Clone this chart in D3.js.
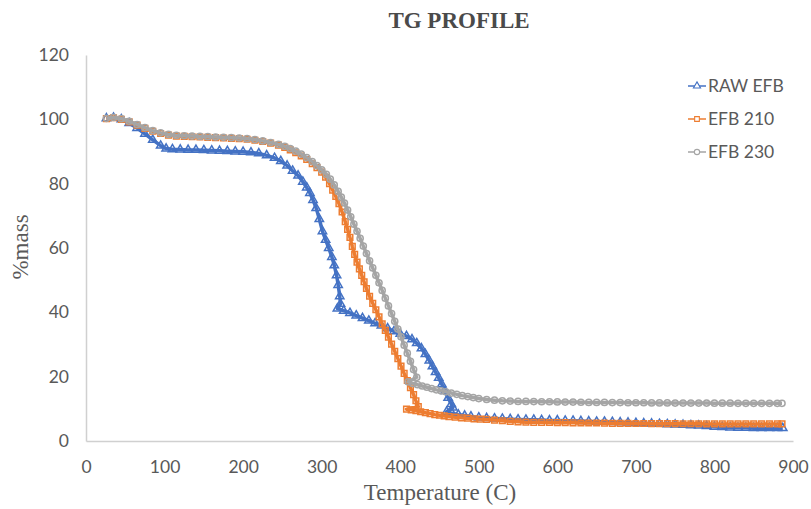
<!DOCTYPE html>
<html>
<head>
<meta charset="utf-8">
<script src="https://cdn.jsdelivr.net/npm/d3@7"></script>
<style>
  body { margin: 0; background: #fff; }
  svg { display: block; }
</style>
</head>
<body>
<svg id="chart"></svg>
<script>
// values: [temperature C, % mass]
const rawEfb = [
  [26, 100.3], [35, 100.5], [45, 100.0], [55, 98.8], [65, 97.3], [75, 95.5], [85, 93.6], [95, 91.8],
  [102, 90.9], [110, 90.7], [120, 90.6], [130, 90.5], [140, 90.5], [150, 90.4], [160, 90.3], [170, 90.2],
  [180, 90.1], [190, 90.0], [200, 89.9], [210, 89.7], [220, 89.4], [230, 88.8], [240, 88.0], [248, 87.0],
  [256, 85.6], [263, 84.0], [270, 82.5], [276, 80.6], [281, 78.8], [285, 77.1], [289, 74.9], [293, 72.4],
  [297, 69.0], [301, 65.2], [305, 62.5], [309, 60.0], [313, 57.2], [316, 54.6], [319, 51.5], [321, 48.5],
  [323, 45.0], [324, 42.6], [320, 41.2], [328, 40.5], [336, 39.8], [344, 39.0], [352, 38.2], [360, 37.4],
  [368, 36.6], [376, 35.9], [384, 35.0], [392, 34.1], [400, 33.3], [408, 32.6], [415, 31.6], [421, 30.4],
  [427, 28.8], [432, 27.0], [437, 25.0], [441, 23.2], [445, 21.4], [449, 19.6], [453, 17.6], [457, 15.5],
  [461, 13.4], [465, 11.5], [467, 10.4], [459, 9.1], [466, 8.6], [474, 8.2], [482, 7.9], [490, 7.6],
  [500, 7.3], [510, 7.1], [520, 7.0], [530, 6.9], [540, 6.8], [550, 6.7], [560, 6.6], [570, 6.6],
  [580, 6.5], [590, 6.4], [600, 6.4], [610, 6.3], [620, 6.3], [630, 6.2], [640, 6.1], [650, 6.0],
  [660, 6.0], [670, 5.9], [680, 5.8], [690, 5.7], [700, 5.6], [710, 5.5], [720, 5.4], [730, 5.3],
  [740, 5.2], [750, 5.1], [760, 5.0], [770, 4.9], [780, 4.8], [790, 4.6], [800, 4.4], [810, 4.3],
  [820, 4.2], [830, 4.1], [840, 4.1], [850, 4.0], [860, 4.0], [870, 4.0], [880, 4.0], [887, 4.0]
];

const efb210 = [
  [26, 100.2], [35, 100.5], [45, 100.0], [55, 99.2], [65, 98.2], [75, 97.2], [85, 96.3], [95, 95.6],
  [105, 95.1], [115, 94.8], [125, 94.7], [135, 94.6], [145, 94.5], [155, 94.4], [165, 94.3], [175, 94.2],
  [185, 94.1], [195, 94.0], [205, 93.8], [215, 93.5], [225, 93.1], [235, 92.6], [245, 92.0], [253, 91.3],
  [260, 90.5], [267, 89.6], [274, 88.6], [281, 87.5], [288, 86.2], [294, 85.0], [300, 83.6], [305, 82.0],
  [310, 80.0], [314, 78.0], [318, 76.0], [322, 73.8], [326, 71.2], [330, 68.2], [333, 65.8], [336, 63.3],
  [339, 60.5], [342, 58.0], [345, 55.6], [348, 53.5], [351, 51.5], [354, 49.5], [357, 47.4], [361, 45.0],
  [365, 42.8], [369, 40.8], [373, 38.6], [377, 36.4], [381, 34.4], [385, 32.3], [389, 30.1], [393, 27.9],
  [397, 25.6], [401, 23.3], [405, 21.0], [409, 18.8], [413, 16.6], [417, 14.4], [420, 12.5], [423, 10.7],
  [408, 9.9], [414, 9.7], [420, 9.4], [426, 9.1], [432, 8.8], [438, 8.5], [444, 8.2], [450, 8.0],
  [456, 7.8], [462, 7.6], [470, 7.4], [478, 7.2], [486, 7.1], [494, 6.9], [502, 6.8], [510, 6.7],
  [520, 6.5], [530, 6.3], [540, 6.1], [550, 5.95], [560, 5.85], [570, 5.8], [580, 5.8], [590, 5.75],
  [600, 5.7], [610, 5.7], [620, 5.65], [630, 5.6], [640, 5.6], [650, 5.6], [660, 5.55], [670, 5.5],
  [680, 5.5], [690, 5.5], [700, 5.45], [710, 5.45], [720, 5.4], [730, 5.4], [740, 5.4], [750, 5.4],
  [760, 5.35], [770, 5.35], [780, 5.35], [790, 5.3], [800, 5.3], [810, 5.3], [820, 5.3], [830, 5.3],
  [840, 5.3], [850, 5.3], [860, 5.3], [870, 5.3], [880, 5.3], [886, 5.3]
];

const efb230 = [
  [26, 100.3], [35, 100.6], [45, 100.2], [55, 99.4], [65, 98.4], [75, 97.4], [85, 96.5], [95, 95.8],
  [105, 95.3], [115, 95.0], [125, 94.9], [135, 94.8], [145, 94.7], [155, 94.6], [165, 94.5], [175, 94.4],
  [185, 94.3], [195, 94.2], [205, 94.0], [215, 93.7], [225, 93.3], [235, 92.8], [245, 92.2], [253, 91.6],
  [260, 90.9], [267, 90.1], [274, 89.2], [281, 88.1], [288, 86.9], [294, 85.6], [300, 84.3], [306, 82.9],
  [311, 81.4], [316, 79.6], [321, 77.6], [325, 75.8], [329, 74.0], [333, 71.8], [337, 69.7], [341, 67.4],
  [345, 65.2], [349, 63.0], [353, 60.6], [357, 58.3], [361, 56.0], [365, 53.8], [369, 51.5], [373, 49.2],
  [377, 46.8], [381, 44.4], [385, 42.0], [389, 39.6], [393, 37.2], [397, 34.8], [401, 32.4], [405, 29.8],
  [409, 27.3], [413, 24.8], [417, 22.2], [421, 19.8], [410, 18.4], [416, 17.9], [422, 17.5], [428, 17.1],
  [434, 16.7], [440, 16.3], [446, 15.9], [452, 15.6], [458, 15.3], [465, 14.9], [472, 14.5], [479, 14.1],
  [486, 13.8], [493, 13.5], [500, 13.2], [510, 12.9], [520, 12.7], [530, 12.5], [540, 12.4], [550, 12.3],
  [560, 12.3], [570, 12.25], [580, 12.2], [590, 12.2], [600, 12.15], [610, 12.1], [620, 12.1], [630, 12.05],
  [640, 12.0], [650, 12.0], [660, 12.0], [670, 11.95], [680, 11.95], [690, 11.9], [700, 11.9], [710, 11.9],
  [720, 11.85], [730, 11.85], [740, 11.85], [750, 11.8], [760, 11.8], [770, 11.8], [780, 11.8], [790, 11.8],
  [800, 11.75], [810, 11.75], [820, 11.75], [830, 11.7], [840, 11.7], [850, 11.7], [860, 11.7], [870, 11.7],
  [880, 11.7], [886, 11.7]
];

const seriesNames = ["RAW EFB", "EFB 210", "EFB 230"];
const xTicks = [0, 100, 200, 300, 400, 500, 600, 700, 800, 900];
const yTicks = [0, 20, 40, 60, 80, 100, 120];

const width = 811, height = 509;
const margin = { top: 55, right: 18, bottom: 68, left: 86 };

const colors = ["#4472c4", "#ed7d31", "#a5a5a5"];
const symbols = [d3.symbolTriangle, d3.symbolSquare, d3.symbolCircle];
const symbolSizes = [30, 32, 30];

const series = [rawEfb, efb210, efb230].map((values, i) => ({
  name: seriesNames[i], values, color: colors[i], symbol: symbols[i], size: symbolSizes[i]
}));

const svg = d3.select("#chart").attr("width", width).attr("height", height);

const x = d3.scaleLinear().domain([0, 900]).range([margin.left, width - margin.right]);
const y = d3.scaleLinear().domain([0, 120]).range([height - margin.bottom, margin.top]);

const tickFont = "Lato, 'Open Sans', sans-serif";
const serif = "'Liberation Serif', 'Times New Roman', serif";

// axes (lines only, Excel style)
const xAxis = svg.append("g")
  .attr("transform", `translate(0, ${y(0)})`)
  .call(d3.axisBottom(x).tickValues(xTicks).tickSize(0).tickPadding(20));
xAxis.select(".domain").attr("stroke", "#d0d0d0").attr("stroke-width", 1.5);
xAxis.selectAll("text").attr("font-family", tickFont).attr("font-size", 17.5).attr("fill", "#595959");

const yAxis = svg.append("g")
  .attr("transform", `translate(${x(0)}, 0)`)
  .call(d3.axisLeft(y).tickValues(yTicks).tickSize(0).tickPadding(17));
yAxis.select(".domain").attr("stroke", "#d0d0d0").attr("stroke-width", 1.5);
yAxis.selectAll("text").attr("font-family", tickFont).attr("font-size", 17.5).attr("fill", "#595959");

// series: thick line plus hollow markers, so dense runs merge into a band
const line = d3.line().x(d => x(d[0])).y(d => y(d[1]));

series.forEach(s => {
  const g = svg.append("g");
  g.append("path")
    .datum(s.values)
    .attr("d", line)
    .attr("fill", "none")
    .attr("stroke", s.color)
    .attr("stroke-width", 3.5)
    .attr("stroke-linejoin", "round");
  g.selectAll("path.marker")
    .data(s.values)
    .join("path")
    .attr("class", "marker")
    .attr("transform", d => `translate(${x(d[0])}, ${y(d[1])})`)
    .attr("d", d3.symbol().type(s.symbol).size(s.size))
    .attr("fill", "none")
    .attr("stroke", s.color)
    .attr("stroke-width", 1.5);
});

// title
svg.append("text")
  .attr("x", 459)
  .attr("y", 28)
  .attr("text-anchor", "middle")
  .attr("font-family", serif)
  .attr("font-weight", "bold")
  .attr("font-size", 23)
  .attr("fill", "#4a4a4a")
  .text("TG PROFILE");

// axis titles
svg.append("text")
  .attr("x", 440)
  .attr("y", 500)
  .attr("text-anchor", "middle")
  .attr("font-family", serif)
  .attr("font-size", 23)
  .attr("fill", "#595959")
  .text("Temperature (C)");

svg.append("text")
  .attr("transform", "translate(28, 247) rotate(-90)")
  .attr("text-anchor", "middle")
  .attr("font-family", serif)
  .attr("font-size", 23)
  .attr("fill", "#595959")
  .text("%mass");

// legend
const legend = svg.append("g").attr("transform", "translate(688, 86)");
const items = legend.selectAll("g")
  .data(series)
  .join("g")
  .attr("transform", (d, i) => `translate(0, ${i * 33})`);
items.append("line")
  .attr("x1", 0).attr("x2", 18)
  .attr("stroke", d => d.color)
  .attr("stroke-width", 1.5);
items.append("path")
  .attr("transform", "translate(9, 0)")
  .attr("d", d => d3.symbol().type(d.symbol).size(22)())
  .attr("fill", "#fff")
  .attr("stroke", d => d.color)
  .attr("stroke-width", 1.1);
items.append("text")
  .attr("x", 20)
  .attr("dy", "0.35em")
  .attr("font-family", tickFont)
  .attr("font-size", 17.5)
  .attr("fill", "#595959")
  .text(d => d.name);
</script>
</body>
</html>
